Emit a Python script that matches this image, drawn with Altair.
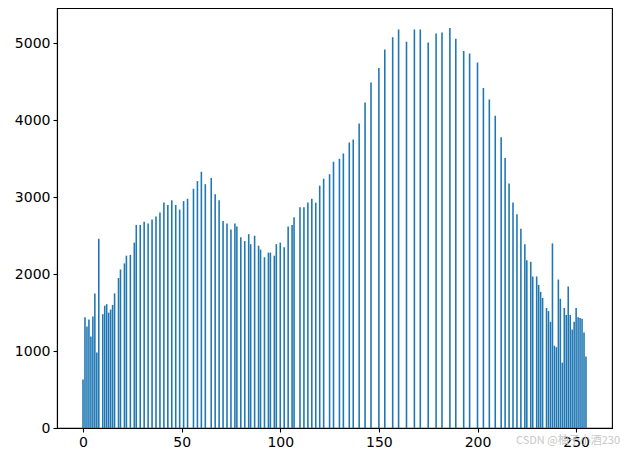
import altair as alt
import pandas as pd

# grey levels that have pixels, and their pixel counts
levels = [0, 1, 2, 3, 4, 5, 6, 7, 8, 10, 11, 12, 13, 14, 15, 16, 18, 19, 21, 22,
          24, 26, 27, 29, 31, 33, 35, 37, 39, 41, 43, 45, 47, 49, 51, 53, 56, 58, 60, 62,
          65, 67, 69, 71, 73, 75, 77, 78, 80, 82, 84, 85, 87, 89, 90, 92, 94, 95, 97, 98,
          100, 102, 104, 106, 107, 110, 112, 114, 116, 118, 120, 122, 125, 127, 130, 132, 135, 137, 140, 143,
          146, 150, 153, 157, 160, 164, 168, 171, 175, 179, 182, 186, 189, 193, 196, 200, 203, 206, 209, 212,
          214, 216, 218, 220, 222, 224, 225, 227, 228, 230, 231, 232, 233, 235, 236, 237, 238, 239, 240, 241,
          242, 243, 244, 245, 246, 247, 248, 249, 250, 251, 252, 253, 254, 255]
counts = [630, 1440, 1320, 1410, 1190, 1450, 1750, 980, 2460, 1480, 1590, 1610, 1500, 1540, 1600, 1750, 1950, 2060, 2140, 2240,
          2250, 2410, 2640, 2640, 2680, 2660, 2710, 2750, 2800, 2930, 2900, 2960, 2900, 2840, 2950, 2980, 3110, 3210, 3330, 3170,
          3250, 3040, 2960, 2690, 2660, 2580, 2660, 2620, 2480, 2430, 2520, 2390, 2500, 2370, 2320, 2220, 2280, 2280, 2240, 2390,
          2410, 2350, 2620, 2640, 2740, 2870, 2870, 2930, 2980, 2930, 3150, 3240, 3300, 3460, 3500, 3570, 3710, 3750, 3960, 4230,
          4490, 4680, 4920, 5080, 5180, 5020, 5180, 5180, 5010, 5130, 5140, 5200, 5060, 4900, 4870, 4750, 4420, 4270, 4060, 3780,
          3510, 3180, 2930, 2780, 2590, 2390, 2180, 2160, 1970, 1970, 1860, 1770, 1690, 1560, 1520, 1380, 2400, 1070, 1050, 1930,
          1680, 850, 1560, 1470, 1840, 1470, 1280, 1380, 1560, 1440, 1430, 1420, 1240, 930]

x_ticks = [0, 50, 100, 150, 200, 250]
y_ticks = [0, 1000, 2000, 3000, 4000, 5000]
watermark = ["CSDN @柚子小酒230"]

df = pd.DataFrame({"level": levels, "count": counts})

axis_common = dict(
    title=None, grid=False, domainColor="black", domainWidth=1.1,
    tickColor="black", tickWidth=1.1, tickSize=4, labelPadding=3,
    labelFont="DejaVu Sans", labelFontSize=14, labelColor="black", format="d",
)

bars = alt.Chart(df).transform_calculate(
    x0="datum.level - 0.4", x1="datum.level + 0.4"
).mark_bar(color="#1f77b4").encode(
    x=alt.X("x0:Q", scale=alt.Scale(domain=[-13.19, 268.19], nice=False, zero=False),
            axis=alt.Axis(values=x_ticks, **axis_common)),
    x2="x1:Q",
    y=alt.Y("count:Q", scale=alt.Scale(domain=[0, 5460], nice=False),
            axis=alt.Axis(values=y_ticks, **axis_common)),
    y2=alt.datum(0),
)

wm = alt.Chart(pd.DataFrame({"t": watermark})).mark_text(
    align="right", baseline="middle", font="Noto Sans CJK SC", fontSize=11,
    color="#c8c8c8"
).encode(text="t:N", x=alt.value(563), y=alt.value(433))

chart = alt.layer(bars, wm).properties(
    width=555, height=420,
    padding={"left": 49, "top": 0, "right": 11, "bottom": 21},
    autosize=alt.AutoSizeParams(type="none"),
).configure_view(stroke="black", strokeWidth=1.1)

chart.save("out.html", embed_options={"renderer": "svg", "actions": False})
